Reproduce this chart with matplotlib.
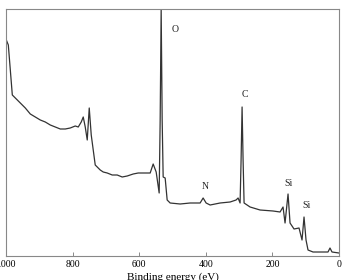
import matplotlib
matplotlib.use("Agg")
import matplotlib.pyplot as plt

energy = [999, 993, 987, 981, 972, 957, 942, 927, 912, 897, 882, 867, 852, 837, 822, 807,
          792, 783, 774, 768, 762, 756, 750, 744, 738, 732, 726, 717, 708, 696, 681, 666,
          651, 636, 618, 603, 588, 567, 558, 549, 540, 537, 534, 531, 528, 522, 516, 507,
          477, 447, 417, 408, 399, 387, 357, 327, 309, 303, 297, 294, 291, 288, 285, 276,
          267, 237, 198, 177, 168, 162, 153, 147, 135, 120, 111, 105, 99, 93, 78, 48,
          33, 27, 21, 0]
intensity = [216, 211, 186, 161, 158, 153, 148, 142, 139, 136, 134, 131, 129, 127, 127, 128,
             130, 129, 134, 139, 129, 116, 148, 121, 106, 91, 89, 86, 84, 83, 81, 81,
             79, 80, 82, 83, 83, 83, 92, 84, 63, 136, 247, 136, 79, 78, 56, 53,
             52, 53, 53, 58, 53, 51, 53, 54, 56, 58, 53, 96, 149, 96, 53, 51,
             49, 46, 45, 44, 49, 33, 62, 33, 27, 28, 16, 39, 16, 6, 4, 4,
             4, 8, 4, 3]

peak_labels = ["O", "C", "N", "Si", "Si"]
label_x = [492, 282, 402, 153, 99]
label_y = [226, 161, 69, 72, 51]
xticks = [1000, 800, 600, 400, 200, 0]

plt.rcParams['font.family'] = ['Liberation Serif', 'DejaVu Serif']

fig = plt.figure(figsize=(3.42, 2.80), dpi=100)
ax = fig.add_axes([0.0175, 0.0857, 0.9737, 0.8822])
ax.plot(energy, intensity, color='#333333', lw=0.9)
ax.set_xlim(1000, 0)
ax.set_ylim(0, 247)
ax.set_xticks(xticks)
ax.set_xticklabels([str(t) for t in xticks], fontsize=7)
ax.set_yticks([])
ax.tick_params(axis='x', direction='in', length=3, width=0.6, color='#777777', pad=3)
for s in ax.spines.values():
    s.set_color('#888888')
    s.set_linewidth(0.8)
for t, x, y in zip(peak_labels, label_x, label_y):
    ax.text(x, y, t, fontsize=7, ha='center', va='center', color='#222222')
ax.set_xlabel('Binding energy (eV)', fontsize=8, labelpad=2)
fig.savefig('out.png', dpi=100)
